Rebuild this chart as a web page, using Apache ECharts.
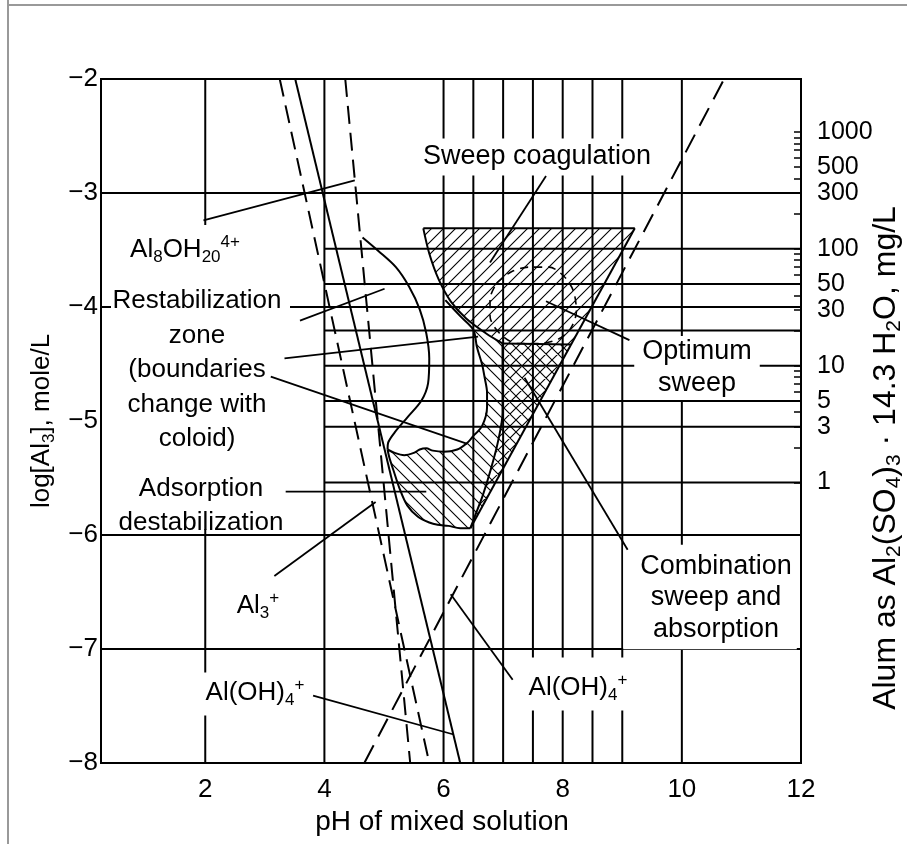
<!DOCTYPE html>
<html><head><meta charset="utf-8">
<script src="https://cdn.jsdelivr.net/npm/echarts@6/dist/echarts.min.js"></script>
<style>html,body{margin:0;padding:0;background:#fff}#c{width:907px;height:844px}</style>
</head><body><div id="c"></div><script>
const FONT = "'Liberation Sans', Arial, Helvetica, sans-serif";

// ---------- axis values ----------
const xTickLabels = [2, 4, 6, 8, 10, 12];
const alumLabels = [1, 3, 5, 10, 30, 50, 100, 300, 500, 1000];
const alumTicks = [1,2,3,4,5,6,7,8,9,10,20,30,40,50,60,70,80,90,100,200,300,400,500,600,700,800,900,1000];
const alumAxisMin = 0.00398;   // mg/L at log[Al] = -8
const alumAxisMax = 2842;      // mg/L at log[Al] = -2

// ---------- grid lines ----------
const gridX = [2, 4, 6, 6.5, 7, 7.5, 8, 8.5, 9, 10];
const gridY = [-3, -4, -6, -7];
const alumLines = [1, 3, 5, 10, 20, 50, 100];

// ---------- boundary lines (pH, log[Al]) ----------
const al3Line  = [[3.51, -2], [6.28, -8]];
const dashedA  = [[3.25, -2], [5.76, -8]];
const dashedB  = [[4.35, -2], [5.44, -8]];
const dashedC  = [[4.67, -8], [10.71, -2]];

const bean = [[4.64,-3.39],[4.91,-3.51],[5.2,-3.65],[5.42,-3.82],[5.6,-4.02],[5.71,-4.23],[5.76,-4.45],[5.74,-4.67],[5.63,-4.82],[5.39,-4.97],[5.18,-5.10],[5.07,-5.19],[5.06,-5.25]];
const wavy = [[5.06,-5.25],[5.18,-5.28],[5.34,-5.30],[5.5,-5.28],[5.6,-5.25],[5.71,-5.24],[5.82,-5.26],[6.0,-5.27],[6.23,-5.25],[6.4,-5.19],[6.5,-5.13]];
const rightCurve = [[6.5,-5.13],[6.65,-5.04],[6.73,-4.88],[6.73,-4.75],[6.69,-4.62],[6.65,-4.51],[6.56,-4.35],[6.5,-4.2],[6.28,-4.08],[6.03,-3.94]];
const sweepLeft = [[5.66,-3.31],[5.76,-3.53],[5.92,-3.76],[6.12,-3.95],[6.38,-4.10],[6.71,-4.23],[6.99,-4.32]];
const sweepTop = [[5.66,-3.31],[9.21,-3.31]];
const sweepRight = [[9.21,-3.31],[6.45,-5.94]];
const crossTop = [[6.99,-4.32],[8.14,-4.33]];
const crossLeft = [[6.99,-4.32],[6.99,-4.93],[6.91,-5.19],[6.79,-5.43],[6.66,-5.65],[6.53,-5.83],[6.45,-5.94]];
const uBottom = [[6.45,-5.94],[6.28,-5.94],[6.08,-5.92],[5.9,-5.91],[5.76,-5.89],[5.57,-5.84],[5.39,-5.74],[5.26,-5.59],[5.17,-5.45],[5.09,-5.32],[5.06,-5.25]];
const optimum = [[6.89,-3.79],[7.14,-3.69],[7.44,-3.65],[7.77,-3.65],[8.02,-3.73],[8.18,-3.86],[8.23,-4.04],[8.13,-4.19],[7.93,-4.28],[7.6,-4.32],[7.24,-4.32],[6.94,-4.23],[6.78,-4.08],[6.78,-3.93],[6.89,-3.79]];

// ---------- leader lines ----------
const leaders = [
  [[1.97,-3.24],[4.51,-2.89]],
  [[3.59,-4.12],[5.01,-3.84]],
  [[3.33,-4.45],[6.58,-4.26]],
  [[3.10,-4.61],[6.40,-5.20]],
  [[3.35,-5.62],[5.71,-5.62]],
  [[3.16,-6.36],[4.86,-5.71]],
  [[3.81,-7.41],[6.17,-7.75]],
  [[6.12,-6.52],[7.16,-7.27]],
  [[7.72,-2.85],[6.78,-3.61]],
  [[7.72,-3.95],[9.12,-4.29]],
  [[7.36,-4.62],[9.09,-6.13]]
];

// ---------- hatched regions (built from the boundaries) ----------
const sweepPoly = [sweepTop[0], sweepTop[1], crossTop[1], crossTop[0]].concat(sweepLeft.slice(1, -1).reverse());
const crossPoly = [crossTop[0], crossTop[1], sweepRight[1]].concat(crossLeft.slice(1, -1).reverse());
const adsPoly = wavy.concat(rightCurve.slice(1, 8), sweepLeft.slice(5), crossLeft.slice(1), uBottom.slice(1, -1));

function hatch(kind) {
  const s = 12, c = document.createElement('canvas');
  c.width = s; c.height = s;
  const g = c.getContext('2d');
  g.strokeStyle = '#000'; g.lineWidth = 1.1; g.beginPath();
  if (kind.indexOf('/') >= 0) {
    g.moveTo(-2, s + 2); g.lineTo(s + 2, -2);
    g.moveTo(-2, 2); g.lineTo(2, -2);
    g.moveTo(s - 2, s + 2); g.lineTo(s + 2, s - 2);
  }
  if (kind.indexOf('\\') >= 0) {
    g.moveTo(-2, -2); g.lineTo(s + 2, s + 2);
    g.moveTo(s - 2, -2); g.lineTo(s + 2, 2);
    g.moveTo(-2, s - 2); g.lineTo(2, s + 2);
  }
  g.stroke();
  return { image: c, repeat: 'repeat' };
}

function poly(pts, fill) {
  return {
    type: 'custom', coordinateSystem: 'cartesian2d', silent: true, z: 3,
    data: [pts[0]],
    renderItem: function (params, api) {
      return { type: 'polygon', shape: { points: pts.map(p => api.coord(p)) }, style: { fill: fill, stroke: null } };
    }
  };
}
function line(data, opts) {
  return Object.assign({
    type: 'line', data: data, showSymbol: false, symbol: 'none', silent: true, z: 4,
    lineStyle: { color: '#000', width: 2 }
  }, opts || {});
}
// straight segments given by end points, drawn through the axes' scales
function segments(segs, yAxisIndex) {
  return {
    type: 'custom', coordinateSystem: 'cartesian2d', yAxisIndex: yAxisIndex || 0, silent: true, z: 1,
    data: [segs[0][0]],
    renderItem: function (params, api) {
      return { type: 'group', children: segs.map(s => {
        const a = api.coord(s[0]), b = api.coord(s[1]);
        return { type: 'line', shape: { x1: a[0], y1: a[1], x2: b[0], y2: b[1] }, style: { stroke: '#000', lineWidth: 2 } };
      }) };
    }
  };
}

const rich = {
  n: { fontSize: 26, fontFamily: FONT, color: '#000' },
  s: { fontSize: 17, fontFamily: FONT, color: '#000', padding: [14, 0, 0, 0] },
  p: { fontSize: 17, fontFamily: FONT, color: '#000', padding: [0, 0, 16, 0] },
  m: { fontSize: 32, fontFamily: FONT, color: '#000' },
  t: { fontSize: 21, fontFamily: FONT, color: '#000', padding: [17, 0, 0, 0] }
};

function txt(x, y, text, opts) {
  return Object.assign({
    type: 'text', x: x, y: y, z: 2, silent: true,
    style: Object.assign({
      text: text, rich: rich, fontSize: 26, fontFamily: FONT, fill: '#000',
      align: 'center', verticalAlign: 'middle', textAlign: 'center', textVerticalAlign: 'middle'
    }, (opts && opts.style) || {})
  }, (opts && opts.el) || {});
}

const series = [
  segments(gridX.map(v => [[v, -8], [v, -2]]).concat(gridY.map(v => [[0.25, v], [12, v]]))),
  segments(alumLines.map(v => [[4, v], [12, v]]), 1),
  poly(sweepPoly, hatch('/')),
  poly(adsPoly, hatch('\\')),
  poly(crossPoly, hatch('/\\')),
  line(al3Line),
  line(dashedA, { lineStyle: { color: '#000', width: 2, type: [18, 9] } }),
  line(dashedB, { lineStyle: { color: '#000', width: 2, type: [18, 9] } }),
  line(dashedC, { lineStyle: { color: '#000', width: 2, type: [20, 10] } }),
  line(bean, { smooth: 0.3 }),
  line(wavy, { smooth: 0.3 }),
  line(rightCurve, { smooth: 0.3 }),
  line(sweepLeft, { smooth: 0.3 }),
  line(sweepTop),
  line(sweepRight),
  line(crossTop),
  line(crossLeft, { smooth: 0.3 }),
  line(uBottom, { smooth: 0.3 }),
  line(optimum, { smooth: 0.3, lineStyle: { color: '#000', width: 1.6, type: [8, 6] } })
].concat(leaders.map(l => line(l, { lineStyle: { color: '#000', width: 1.8 } })));

const option = {
  animation: false,
  backgroundColor: '#fff',
  grid: { left: 101, right: 106, top: 79, bottom: 81, show: true, borderColor: '#000', borderWidth: 2,
          backgroundColor: 'transparent', containLabel: false, outerBoundsMode: 'none' },
  xAxis: {
    type: 'value', min: 0.25, max: 12,
    name: 'pH of mixed solution', nameLocation: 'middle', nameGap: 36,
    nameTextStyle: { fontSize: 28, fontFamily: FONT, color: '#000', padding: [0, 18, 0, 0] },
    axisLine: { show: false }, axisTick: { show: false }, splitLine: { show: false },
    axisLabel: { customValues: xTickLabels, fontSize: 26, fontFamily: FONT, color: '#000', margin: 14 }
  },
  yAxis: [{
    type: 'value', min: -8, max: -2, interval: 1,
    name: '{n|log[Al}{s|3}{n|], mole/L}', nameLocation: 'middle', nameGap: 38, nameRotate: 90,
    nameTextStyle: { rich: rich },
    axisLine: { show: false }, axisTick: { show: false }, splitLine: { show: false },
    axisLabel: { fontSize: 26, fontFamily: FONT, color: '#000', margin: 3, formatter: v => '\u2212' + Math.abs(v) }
  }, {
    type: 'log', logBase: 10, min: alumAxisMin, max: alumAxisMax, position: 'right',
    axisLine: { show: false }, splitLine: { show: false }, minorTick: { show: false },
    axisTick: { show: true, inside: true, length: 7, customValues: alumTicks, lineStyle: { color: '#000', width: 1.5 } },
    axisLabel: { customValues: alumLabels, fontSize: 25, fontFamily: FONT, color: '#000', margin: 16,
      formatter: v => String(Math.round(v)) }
  }],
  graphic: [
    { type: 'line', z: 0, silent: true, shape: { x1: 8, y1: 0, x2: 8, y2: 844 }, style: { stroke: '#999', lineWidth: 2 } },
    { type: 'line', z: 0, silent: true, shape: { x1: 8, y1: 5, x2: 907, y2: 5 }, style: { stroke: '#999', lineWidth: 2 } },
    { type: 'rect', z: 2, silent: true, shape: { x: 111, y: 225, width: 179, height: 304 }, style: { fill: '#fff' } },
    txt(886, 458, '{m|Alum as Al}{t|2}{m|(SO}{t|4}{m|)}{t|3}{m| \u00b7 14.3 H}{t|2}{m|O, mg/L}', { el: { rotation: Math.PI / 2 } }),
    txt(185, 250, '{n|Al}{s|8}{n|OH}{s|20}{p|4+}'),
    txt(197, 370, 'Restabilization\nzone\n(boundaries\nchange with\ncoloid)', { style: { lineHeight: 34.5 } }),
    txt(201, 506, 'Adsorption\ndestabilization', { style: { lineHeight: 34 } }),
    txt(258, 606, '{n|Al}{s|3}{p|+}'),
    txt(255, 694, '{n|Al(OH)}{s|4}{p|+}', { style: { backgroundColor: '#fff', padding: [4, 4, 6, 4] } }),
    txt(578, 684, '{n|Al(OH)}{s|4}{p|+}', { style: { backgroundColor: '#fff', padding: [14, 6, 6, 6] } }),
    txt(537, 157, 'Sweep coagulation', { style: { fontSize: 27, backgroundColor: '#fff', padding: [5, 4, 5, 4] } }),
    txt(697, 368, 'Optimum\nsweep', { style: { fontSize: 27, lineHeight: 32, backgroundColor: '#fff', padding: [0, 8, 0, 8] } }),
    txt(710, 597, 'Combination\nsweep and\nabsorption', { style: { fontSize: 27, lineHeight: 31.5, backgroundColor: '#fff', padding: [6, 5, 4, 17] } })
  ],
  series: series
};

const chart = echarts.init(document.getElementById('c'), null, { renderer: 'canvas', width: 907, height: 844 });
chart.setOption(option);
</script></body></html>
